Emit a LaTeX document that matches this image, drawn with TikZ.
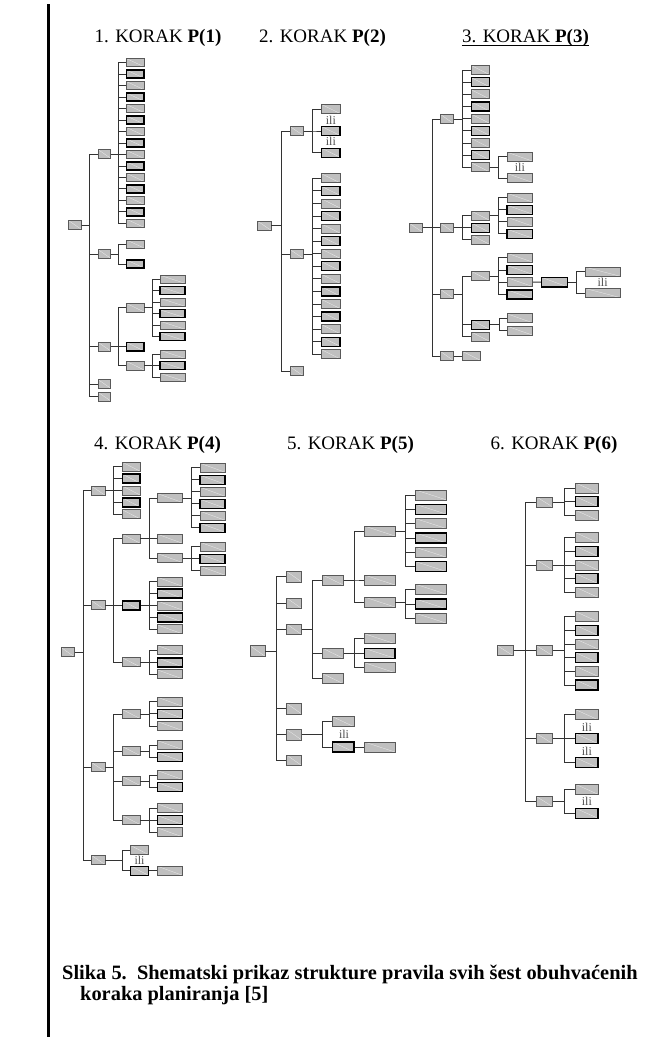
\documentclass[tikz,border=0pt]{standalone}
\usepackage{fontspec}
\setmainfont{Liberation Serif}
\tikzset{
  rb/.style={draw=black!65, fill=black!25, line width=0.8pt, inner sep=0pt,
    path picture={\draw[white!70!black!25, line width=0.3pt] (path picture bounding box.north west) -- (path picture bounding box.south east);}},
  bx/.style 2 args={rb, minimum width=#1, minimum height=#2},
  tb/.style={draw=black, line width=1.4pt},
  lw0/.style={tb}, lw1/.style={},
  ln/.style={black!80, line width=0.8pt},
  ili/.style={font=\fontsize{12}{12}\selectfont, text=black!70, inner sep=0pt},
  ttl/.style={font=\fontsize{19}{22}\selectfont, inner sep=0pt}
}
\begin{document}
\begin{tikzpicture}[x=1pt,y=-1pt]
\useasboundingbox (0,0) rectangle (648,1041);
% left bar
\fill (46.5,4) rectangle (50,1037);
% titles
\node[ttl] (t1) at (158,38) {1. KORAK \textbf{P(1)}};
\node[ttl] (t2) at (322.5,38) {2. KORAK \textbf{P(2)}};
\node[ttl] (t3) at (525.5,38) {3. KORAK \textbf{P(3)}};
\draw[line width=1pt] ([yshift=-3pt]t3.base west) -- ([yshift=-3pt]t3.base east);
\node[ttl] (t4) at (157.5,445) {4. KORAK \textbf{P(4)}};
\node[ttl] (t5) at (350.5,445) {5. KORAK \textbf{P(5)}};
\node[ttl] (t6) at (554,445) {6. KORAK \textbf{P(6)}};
%
% panel 1
\node[bx={12.5}{8.5}] (r1) at (75,225) {};
\foreach \n/\y in {c1a/154,c1b/254,c1c/346.7,c1d/384,c1e/396.7}
  \node[bx={12.5}{8.5}] (\n) at (104.5,\y) {};
\foreach \i [evaluate=\i as \k using {int(mod(\i,2))}] in {1,...,15}
  \node[bx={17.3}{8}, lw\k] (a1-\i) at (135.3,{62.7+11.47*(\i-1)}) {};
\node[bx={17.3}{8}] (b1-1) at (135.3,244) {};
\node[bx={17.3}{8}, tb] (b1-2) at (135.3,264) {};
\node[bx={17.3}{8.5}] (d1a) at (135.3,307.7) {};
\node[bx={17.3}{8.5}, tb] (d1b) at (135.3,346.7) {};
\node[bx={17.3}{8.5}] (d1c) at (135.3,365.7) {};
\foreach \i [evaluate=\i as \k using {int(mod(\i,2))}] in {1,...,6}
  \node[bx={25}{8}, lw\k] (e1-\i) at (172.5,{279.3+11.48*(\i-1)}) {};
\node[bx={25}{8}] (f1-1) at (172.5,354.3) {};
\node[bx={25}{8}, tb] (f1-2) at (172.5,365.7) {};
\node[bx={25}{8}] (f1-3) at (172.5,377.3) {};
\foreach \n in {c1a,c1b,c1c,c1d,c1e} \draw[ln] (r1.east) -- ++(8.05,0) |- (\n.west);
\foreach \i in {1,...,15} \draw[ln] (c1a.east) -- ++(7.6,0) |- (a1-\i.west);
\foreach \n in {b1-1,b1-2} \draw[ln] (c1b.east) -- ++(7.6,0) |- (\n.west);
\foreach \n in {d1a,d1b,d1c} \draw[ln] (c1c.east) -- ++(7.6,0) |- (\n.west);
\foreach \i in {1,...,6} \draw[ln] (d1a.east) -- ++(7.75,0) |- (e1-\i.west);
\foreach \i in {1,2,3} \draw[ln] (d1c.east) -- ++(7.75,0) |- (f1-\i.west);
%
% panel 2
\node[bx={13.3}{9}] (r2) at (264.3,225.7) {};
\foreach \n/\y in {c2a/131,c2b/254,c2c/371.3}
  \node[bx={13.3}{9}] (\n) at (296.7,\y) {};
\node[bx={18.3}{9}] (a2-1) at (330.85,109) {};
\node[bx={18.3}{9}, tb] (a2-2) at (330.85,131) {};
\node[bx={18.3}{9}, tb] (a2-3) at (330.85,152.7) {};
\node[ili] (i2-1) at (330.85,120.5) {ili};
\node[ili] (i2-2) at (330.85,141.5) {ili};
\foreach \i [evaluate=\i as \k using {int(mod(\i,2))}] in {1,...,15}
  \node[bx={18.3}{9}, lw\k] (b2-\i) at (330.85,{178.3+12.57*(\i-1)}) {};
\foreach \n in {c2a,c2b,c2c} \draw[ln] (r2.east) -- ++(9.75,0) |- (\n.west);
\foreach \i in {1,2,3} \draw[ln] (c2a.east) -- ++(8.35,0) |- (a2-\i.west);
\foreach \i in {1,...,15} \draw[ln] (c2b.east) -- ++(8.35,0) |- (b2-\i.west);
%
% panel 3
\node[bx={13.3}{9}] (r3) at (416,227.7) {};
\foreach \n/\y in {c3a/119,c3b/227.7,c3c/294,c3d/356}
  \node[bx={12.7}{9}] (\n) at (447,\y) {};
\foreach \i [evaluate=\i as \k using {int(mod(\i,2))}] in {1,...,9}
  \node[bx={18}{9}, lw\k] (a3-\i) at (480.3,{70+12.16*(\i-1)}) {};
\node[bx={25.7}{9}] (b3-1) at (519.85,156.7) {};
\node[bx={25.7}{9}] (b3-2) at (519.85,178) {};
\node[ili] (i3-1) at (519.85,167.3) {ili};
\node[bx={17.7}{9}] (d3a) at (480.5,215.7) {};
\node[bx={17.7}{9}, tb] (d3b) at (480.5,227.7) {};
\node[bx={17.7}{9}] (d3c) at (480.5,239.7) {};
\foreach \i [evaluate=\i as \k using {int(mod(\i,2))}] in {1,...,4}
  \node[bx={25.7}{9}, lw\k] (e3-\i) at (519.85,{197.7+12*(\i-1)}) {};
\node[bx={17.7}{9}] (d3d) at (480.5,276) {};
\node[bx={17.7}{9}, tb] (d3e) at (480.5,324.7) {};
\node[bx={17.7}{9}] (d3f) at (480.5,336.7) {};
\foreach \i [evaluate=\i as \k using {int(mod(\i,2))}] in {1,...,4}
  \node[bx={25.7}{9}, lw\k] (f3-\i) at (519.85,{257.7+12.2*(\i-1)}) {};
\node[bx={25.7}{9.5}, tb] (g3) at (554.5,282.1) {};
\node[bx={34.7}{9}] (h3-1) at (602.65,271.7) {};
\node[bx={34.7}{9}] (h3-2) at (602.65,293) {};
\node[ili] (i3-2) at (602.65,282.4) {ili};
\node[bx={25.7}{9}] (k3-1) at (519.85,318.3) {};
\node[bx={25.7}{9}] (k3-2) at (519.85,330.7) {};
\node[bx={18}{9}] (m3) at (471.7,356) {};
\foreach \n in {c3a,c3b,c3c,c3d} \draw[ln] (r3.east) -- ++(9.05,0) |- (\n.west);
\foreach \i in {1,...,9} \draw[ln] (c3a.east) -- ++(8.95,0) |- (a3-\i.west);
\foreach \i in {1,2} \draw[ln] (a3-9.east) -- ++(9,0) |- (b3-\i.west);
\foreach \n in {d3a,d3b,d3c} \draw[ln] (c3b.east) -- ++(8.95,0) |- (\n.west);
\foreach \i in {1,...,4} \draw[ln] (d3a.east) -- ++(8.95,0) |- (e3-\i.west);
\foreach \n in {d3d,d3e,d3f} \draw[ln] (c3c.east) -- ++(8.95,0) |- (\n.west);
\foreach \i in {1,...,4} \draw[ln] (d3d.east) -- ++(8.95,0) |- (f3-\i.west);
\draw[ln] (f3-3.east) -- (g3.west);
\foreach \i in {1,2} \draw[ln] (g3.east) -- ++(8.65,0) |- (h3-\i.west);
\foreach \i in {1,2} \draw[ln] (d3e.east) -- ++(8.95,0) |- (k3-\i.west);
\draw[ln] (c3d.east) -- (m3.west);
%
% panel 4
\node[bx={12.7}{9}] (r4) at (68,652.3) {};
\foreach \n/\y in {c4a/490.7,c4b/605.3,c4c/767,c4d/860}
  \node[bx={13.3}{9}] (\n) at (98.3,\y) {};
\foreach \i [evaluate=\i as \k using {int(mod(\i,2))}] in {1,...,5}
  \node[bx={17.7}{9}, lw\k] (a4-\i) at (131.2,{466.7+11.9*(\i-1)}) {};
\node[bx={17.7}{9}] (d4a) at (131.2,538.7) {};
\node[bx={17.7}{9}, tb] (d4b) at (131.2,605.3) {};
\node[bx={17.7}{9}] (d4c) at (131.2,662.3) {};
\node[bx={25}{9}] (e4a) at (169.8,498) {};
\node[bx={25}{9}] (e4b) at (169.8,538.7) {};
\node[bx={25}{9}] (e4c) at (169.8,558) {};
\foreach \i [evaluate=\i as \k using {int(mod(\i,2))}] in {1,...,6}
  \node[bx={25}{9}, lw\k] (f4-\i) at (212.5,{467.7+12*(\i-1)}) {};
\foreach \i/\y [evaluate=\i as \k using {int(mod(\i,2))}] in {1/546.7,2/558.7,3/570.7}
  \node[bx={25}{9}, lw\k] (g4-\i) at (212.5,\y) {};
\foreach \i [evaluate=\i as \k using {int(mod(\i,2))}] in {1,...,5}
  \node[bx={25}{9}, lw\k] (h4-\i) at (169.8,{581.7+11.9*(\i-1)}) {};
\foreach \i/\y [evaluate=\i as \k using {int(mod(\i,2))}] in {1/650,2/662.3,3/674.3}
  \node[bx={25}{9}, lw\k] (k4-\i) at (169.8,\y) {};
\foreach \n/\y in {d4d/714,d4e/751,d4f/781,d4g/820}
  \node[bx={17.7}{9}] (\n) at (131.2,\y) {};
\foreach \i/\y [evaluate=\i as \k using {int(mod(\i,2))}] in {1/701.7,2/713.7,3/726}
  \node[bx={25}{9}, lw\k] (m4-\i) at (169.8,\y) {};
\foreach \i/\y [evaluate=\i as \k using {int(mod(\i,2))}] in {1/745,2/757}
  \node[bx={25}{9}, lw\k] (n4-\i) at (169.8,\y) {};
\foreach \i/\y [evaluate=\i as \k using {int(mod(\i,2))}] in {1/775,2/787}
  \node[bx={25}{9}, lw\k] (p4-\i) at (169.8,\y) {};
\foreach \i/\y [evaluate=\i as \k using {int(mod(\i,2))}] in {1/808.3,2/820,3/832.3}
  \node[bx={25}{9}, lw\k] (q4-\i) at (169.8,\y) {};
\node[bx={17.7}{9}] (d4h) at (139.5,850) {};
\node[bx={17.7}{9}, tb] (d4i) at (139.5,870.7) {};
\node[ili] (i4-1) at (139.5,860.3) {ili};
\node[bx={25}{9}] (e4d) at (169.8,870.7) {};
\foreach \n in {c4a,c4b,c4c,c4d} \draw[ln] (r4.east) -- ++(8.35,0) |- (\n.west);
\foreach \i in {1,...,5} \draw[ln] (c4a.east) -- ++(8.35,0) |- (a4-\i.west);
\foreach \n in {d4a,d4b,d4c} \draw[ln] (c4b.east) -- ++(8.35,0) |- (\n.west);
\foreach \n in {e4a,e4b,e4c} \draw[ln] (d4a.east) -- ++(8.65,0) |- (\n.west);
\foreach \i in {1,...,6} \draw[ln] (e4a.east) -- ++(8.7,0) |- (f4-\i.west);
\foreach \i in {1,2,3} \draw[ln] (e4c.east) -- ++(8.7,0) |- (g4-\i.west);
\foreach \i in {1,...,5} \draw[ln] (d4b.east) -- ++(8.65,0) |- (h4-\i.west);
\foreach \i in {1,2,3} \draw[ln] (d4c.east) -- ++(8.65,0) |- (k4-\i.west);
\foreach \n in {d4d,d4e,d4f,d4g} \draw[ln] (c4c.east) -- ++(8.35,0) |- (\n.west);
\foreach \i in {1,2,3} \draw[ln] (d4d.east) -- ++(8.65,0) |- (m4-\i.west);
\foreach \i in {1,2} \draw[ln] (d4e.east) -- ++(8.65,0) |- (n4-\i.west);
\foreach \i in {1,2} \draw[ln] (d4f.east) -- ++(8.65,0) |- (p4-\i.west);
\foreach \i in {1,2,3} \draw[ln] (d4g.east) -- ++(8.65,0) |- (q4-\i.west);
\foreach \n in {d4h,d4i} \draw[ln] (c4d.east) -- ++(16.75,0) |- (\n.west);
\draw[ln] (d4i.east) -- (e4d.west);
%
% panel 5
\node[bx={15}{10.5}] (r5) at (257.5,651) {};
\foreach \n/\y in {c5a/576.7,c5b/603.3,c5c/629.3,c5d/708.7,c5e/734.7,c5f/760.3}
  \node[bx={15}{10.5}] (\n) at (294.2,\y) {};
\node[bx={20.6}{10}] (d5a) at (333,580) {};
\node[bx={20.6}{10}] (d5b) at (333,653.3) {};
\node[bx={20.6}{10}] (d5c) at (333,678.7) {};
\node[bx={30.7}{10}] (e5a) at (379.7,531) {};
\node[bx={30.7}{10}] (e5b) at (379.7,580) {};
\node[bx={30.7}{10}] (e5c) at (379.7,602) {};
\foreach \i [evaluate=\i as \k using {int(mod(\i,2))}] in {1,...,6}
  \node[bx={31}{10}, lw\k] (f5-\i) at (431.2,{495+14.33*(\i-1)}) {};
\foreach \i/\y [evaluate=\i as \k using {int(mod(\i,2))}] in {1/589.3,2/604,3/618.3}
  \node[bx={31}{10}, lw\k] (g5-\i) at (431.2,\y) {};
\foreach \i/\y [evaluate=\i as \k using {int(mod(\i,2))}] in {1/638.7,2/653.3,3/667.7}
  \node[bx={30.7}{10}, lw\k] (h5-\i) at (379.7,\y) {};
\node[bx={21.3}{10}] (d5d) at (343.3,721.7) {};
\node[bx={21.3}{10}, tb] (d5e) at (343.3,747) {};
\node[ili] (i5-1) at (344,734.8) {ili};
\node[bx={30.7}{10}] (e5d) at (379.7,747) {};
\foreach \n in {c5a,c5b,c5c,c5d,c5e,c5f} \draw[ln] (r5.east) -- ++(10.7,0) |- (\n.west);
\foreach \n in {d5a,d5b,d5c} \draw[ln] (c5c.east) -- ++(10,0) |- (\n.west);
\foreach \n in {e5a,e5b,e5c} \draw[ln] (d5a.east) -- ++(10.7,0) |- (\n.west);
\foreach \i in {1,...,6} \draw[ln] (e5a.east) -- ++(9.95,0) |- (f5-\i.west);
\foreach \i in {1,2,3} \draw[ln] (e5c.east) -- ++(9.95,0) |- (g5-\i.west);
\foreach \i in {1,2,3} \draw[ln] (d5b.east) -- ++(10.7,0) |- (h5-\i.west);
\foreach \n in {d5d,d5e} \draw[ln] (c5e.east) -- ++(20.6,0) |- (\n.west);
\draw[ln] (d5e.east) -- (e5d.west);
%
% panel 6
\node[bx={16}{10}] (r6) at (505.3,650.7) {};
\foreach \n/\y in {c6a/502,c6b/565,c6c/650.7,c6d/738.7,c6e/801.7}
  \node[bx={16}{10}] (\n) at (544.7,\y) {};
\foreach \i [evaluate=\i as \k using {int(mod(\i,2))}] in {1,...,3}
  \node[bx={22.3}{10}, lw\k] (a6-\i) at (586.85,{488+13.65*(\i-1)}) {};
\foreach \i [evaluate=\i as \k using {int(mod(\i,2))}] in {1,...,5}
  \node[bx={22.3}{10}, lw\k] (b6-\i) at (586.85,{537.7+13.65*(\i-1)}) {};
\foreach \i [evaluate=\i as \k using {int(mod(\i,2))}] in {1,...,6}
  \node[bx={22.3}{10}, lw\k] (d6-\i) at (586.85,{616.7+13.66*(\i-1)}) {};
\node[bx={22.3}{10}] (e6-1) at (586.85,714.7) {};
\node[bx={22.3}{10}, tb] (e6-2) at (586.85,738.7) {};
\node[bx={22.3}{10}, tb] (e6-3) at (586.85,762.7) {};
\node[ili] (i6-1) at (586.85,727.3) {ili};
\node[ili] (i6-2) at (586.85,751.3) {ili};
\node[bx={22.3}{10}] (f6-1) at (586.85,789.3) {};
\node[bx={22.3}{10}, tb] (f6-2) at (586.85,813.3) {};
\node[ili] (i6-3) at (586.85,801.8) {ili};
\foreach \n in {c6a,c6b,c6c,c6d,c6e} \draw[ln] (r6.east) -- ++(11.7,0) |- (\n.west);
\foreach \i in {1,2,3} \draw[ln] (c6a.east) -- ++(11.3,0) |- (a6-\i.west);
\foreach \i in {1,...,5} \draw[ln] (c6b.east) -- ++(11.3,0) |- (b6-\i.west);
\foreach \i in {1,...,6} \draw[ln] (c6c.east) -- ++(11.3,0) |- (d6-\i.west);
\foreach \i in {1,2,3} \draw[ln] (c6d.east) -- ++(11.3,0) |- (e6-\i.west);
\foreach \i in {1,2} \draw[ln] (c6e.east) -- ++(11.3,0) |- (f6-\i.west);
%
% caption
\node[anchor=base west, inner sep=0pt, font=\bfseries\fontsize{20.4}{21}\selectfont] (cap1) at (62,979)
  {Slika 5.\ \ Shematski prikaz strukture pravila svih šest obuhvaćenih};
\node[anchor=base west, inner sep=0pt, font=\bfseries\fontsize{20.4}{21}\selectfont] (cap2) at (80,1000)
  {koraka planiranja [5]};
\end{tikzpicture}
\end{document}
